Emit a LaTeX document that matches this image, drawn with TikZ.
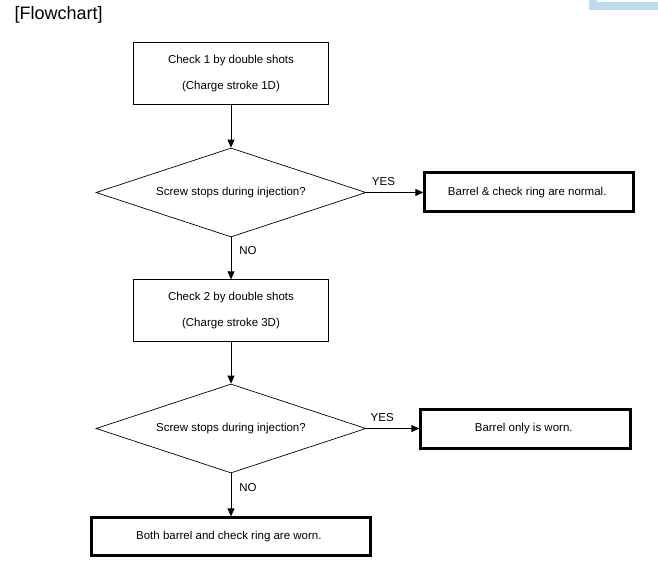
\documentclass[tikz,border=0pt]{standalone}
\usepackage{fontspec}
\setmainfont{Liberation Sans}
\usetikzlibrary{shapes.geometric,arrows.meta,positioning}
\definecolor{windowblue}{RGB}{189,219,238}
\begin{document}
\begin{tikzpicture}[x=1pt,y=1pt]
    % Define Styles
        \tikzstyle{block} = [
            rectangle,
            draw,
            fill=white,
            align = center,
            minimum width = 195pt,
            minimum height = 61.5pt,
            line width = 0.8pt,
            font = \fontsize{11.5}{13}\selectfont
        ]
        \tikzstyle{result} = [
            rectangle,
            draw,
            fill=white,
            align = center,
            minimum height = 39pt,
            line width = 3pt,
            font = \fontsize{11.5}{13}\selectfont
        ]
        \tikzstyle{decision} = [
            diamond,
            draw,
            aspect = 3,
            inner sep = 0pt,
            minimum width = 270pt,
            minimum height = 89pt,
            line width = 0.7pt,
            font = \fontsize{11.5}{13}\selectfont
        ]
        \tikzstyle{line} = [
            draw,
            line width = 0.8pt,
            -{Triangle[length=8pt, width=7pt]}
        ]
        \tikzstyle{answer} = [
            font = \fontsize{11.5}{13}\selectfont
        ]
    \useasboundingbox (0,0) rectangle (658,-569);
    % Window edge
        \fill [windowblue] (589,0) rectangle (658,-10);
        \fill [white] (597,0) rectangle (658,-2);
    % Place nodes
        \node [anchor=west, font=\fontsize{18}{20}\selectfont] (0) at (11,-15) {[Flowchart]};
        \node [block] (1) at (231,-73.5) {%
            Check 1 by double shots \\[13pt]
            (Charge stroke 1D)
        };
        \node [decision, below = 43pt of 1] (2) {%
            Screw stops during injection?
        };
        \node [result, minimum width = 209pt, right = 57pt of 2] (3) {%
            Barrel \& check ring are normal.
        };
        \node [block, below = 42pt of 2] (4) {%
            Check 2 by double shots \\[13pt]
            (Charge stroke 3D)
        };
        \node [decision, below = 42pt of 4] (5) {%
            Screw stops during injection?
        };
        \node [result, minimum width = 210pt, right = 53pt of 5] (6) {%
            Barrel only is worn.
        };
        \node [result, minimum width = 279pt, minimum height = 38pt, below = 43pt of 5] (7) {%
            Both barrel and check ring are worn.
        };
    % Draw edges
        \path [line] (1) -- (2);
        \path [line] (2) -- node [answer, above, inner sep=6pt, pos=0.3] {YES} (3);
        \path [line] (2) -- node [answer, right, inner sep=8pt, pos=0.32] {NO} (4);
        \path [line] (4) -- (5);
        \path [line] (5) -- node [answer, above, inner sep=6pt, pos=0.3] {YES} (6);
        \path [line] (5) -- node [answer, right, inner sep=8pt, pos=0.32] {NO} (7);
\end{tikzpicture}
\end{document}
